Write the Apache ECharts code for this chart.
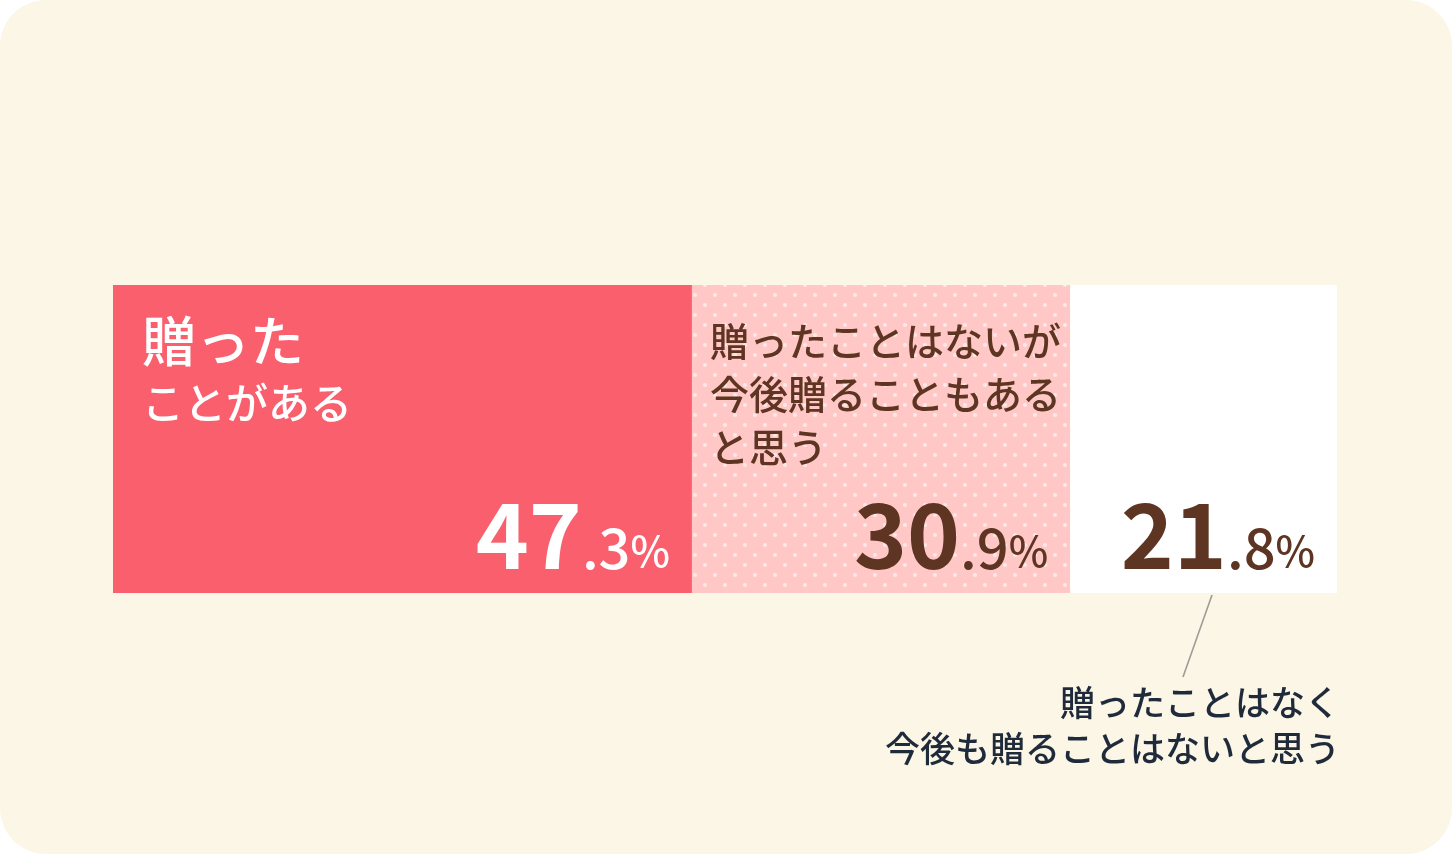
<!DOCTYPE html>
<html>
<head>
<meta charset="utf-8">
<script src="https://cdn.jsdelivr.net/npm/echarts@6/dist/echarts.min.js"></script>
<style>
  html, body { margin: 0; padding: 0; background: #ffffff; }
  #wrap { position: absolute; left: 0; top: 0; width: 1452px; height: 854px; background: #FCF6E6; border-radius: 46px; }
  #chart { position: absolute; left: 0; top: 0; width: 1452px; height: 854px; }
</style>
</head>
<body>
<div id="wrap"></div>
<div id="chart"></div>
<script>
// ---- data ----
const categories = ['回答'];
const seriesNames = [
  '贈ったことがある',
  '贈ったことはないが今後贈ることもあると思う',
  '贈ったことはなく今後も贈ることはないと思う'
];
const values = [47.3, 30.9, 21.8];
const valueInt = ['47', '30', '21'];
const valueDec = ['.3', '.9', '.8'];
const redTitleLines = ['贈った', 'ことがある'];
const pinkTitleLines = ['贈ったことはないが', '今後贈ることもある', 'と思う'];
const noteLines = ['贈ったことはなく', '今後も贈ることはないと思う'];

// ---- styles ----
const FONT = '"Noto Sans CJK JP", "Noto Sans", sans-serif';
const RED = '#F95F6D';
const PINK = '#FFC7C6';
const BROWN = '#5E3422';
const NAVY = '#1F2B3B';
const BAR_W = 308;

// dotted pattern tile
const tile = document.createElement('canvas');
tile.width = 20; tile.height = 20;
const tc = tile.getContext('2d');
tc.fillStyle = PINK; tc.fillRect(0, 0, 20, 20);
tc.fillStyle = 'rgba(255,255,255,0.6)';
[[5, 5], [15, 15]].forEach(function (p) {
  tc.beginPath(); tc.arc(p[0], p[1], 2.1, 0, Math.PI * 2); tc.fill();
});

const barColors = [RED, { image: tile, repeat: 'repeat' }, '#FFFFFF'];
const numColors = ['#FFFFFF', BROWN, BROWN];

function numRich(color) {
  return {
    big: { fontFamily: FONT, fontSize: 90, fontWeight: 600, color: color, lineHeight: 90, verticalAlign: 'bottom' },
    mid: { fontFamily: FONT, fontSize: 56, fontWeight: 500, color: color, lineHeight: 90, verticalAlign: 'bottom', padding: [0, 0, 4, 0] },
    pct: { fontFamily: FONT, fontSize: 42, fontWeight: 500, color: color, lineHeight: 90, verticalAlign: 'bottom', padding: [0, 0, 8, 0] }
  };
}

const series = [];
// stacked segments with titles
values.forEach(function (v, i) {
  let label = { show: false };
  if (i === 0) {
    label = {
      show: true, position: 'insideTopLeft', distance: 0, padding: [22, 0, 0, 29],
      formatter: '{a|' + redTitleLines[0] + '}\n{b|' + redTitleLines[1] + '}',
      rich: {
        a: { fontFamily: FONT, fontSize: 54, fontWeight: 500, color: '#FFFFFF', lineHeight: 68 },
        b: { fontFamily: FONT, fontSize: 42, fontWeight: 500, color: '#FFFFFF', lineHeight: 56 }
      }
    };
  } else if (i === 1) {
    label = {
      show: true, position: 'insideTopLeft', distance: 0, padding: [30, 0, 0, 18],
      formatter: pinkTitleLines.map(function (l) { return '{a|' + l + '}'; }).join('\n'),
      rich: {
        a: { fontFamily: FONT, fontSize: 39, fontWeight: 500, color: BROWN, lineHeight: 53 }
      }
    };
  }
  series.push({
    name: seriesNames[i], type: 'bar', stack: 'seg', barWidth: BAR_W, barGap: '-100%',
    data: [v], silent: true,
    itemStyle: { color: barColors[i] },
    label: label
  });
});
// overlay with value labels
values.forEach(function (v, i) {
  series.push({
    name: seriesNames[i] + '_v', type: 'bar', stack: 'num', barWidth: BAR_W, barGap: '-100%',
    data: [v], silent: true,
    itemStyle: { color: 'rgba(0,0,0,0)' },
    label: {
      show: true, position: 'insideBottomRight', distance: 0, padding: [0, 22, 13, 0],
      formatter: '{big|' + valueInt[i] + '}{mid|' + valueDec[i] + '}{pct|%}',
      rich: numRich(numColors[i])
    }
  });
});

const chart = echarts.init(document.getElementById('chart'), null, { renderer: 'canvas' });
chart.setOption({
  backgroundColor: 'transparent',
  animation: false,
  grid: { left: 113, right: 115, top: 285, height: BAR_W, containLabel: false },
  xAxis: { type: 'value', min: 0, max: 100, show: false },
  yAxis: { type: 'category', data: categories, show: false },
  series: series
});

// annotation for the third segment, anchored to the axis scale
const endPt = chart.convertToPixel({ gridIndex: 0 }, [100, categories[0]]);
const barBottom = endPt[1] + BAR_W / 2;
chart.setOption({
  graphic: [
    {
      type: 'line', silent: true,
      shape: { x1: endPt[0] - 125, y1: barBottom + 2, x2: endPt[0] - 154, y2: barBottom + 84 },
      style: { stroke: '#9C9C98', lineWidth: 1.6 }
    },
    {
      type: 'text', silent: true, x: endPt[0] + 3, y: barBottom + 133,
      style: {
        text: noteLines.join('\n'), align: 'right', verticalAlign: 'middle',
        font: '500 35px ' + FONT, fill: NAVY, lineHeight: 46
      }
    }
  ]
});
</script>
</body>
</html>
